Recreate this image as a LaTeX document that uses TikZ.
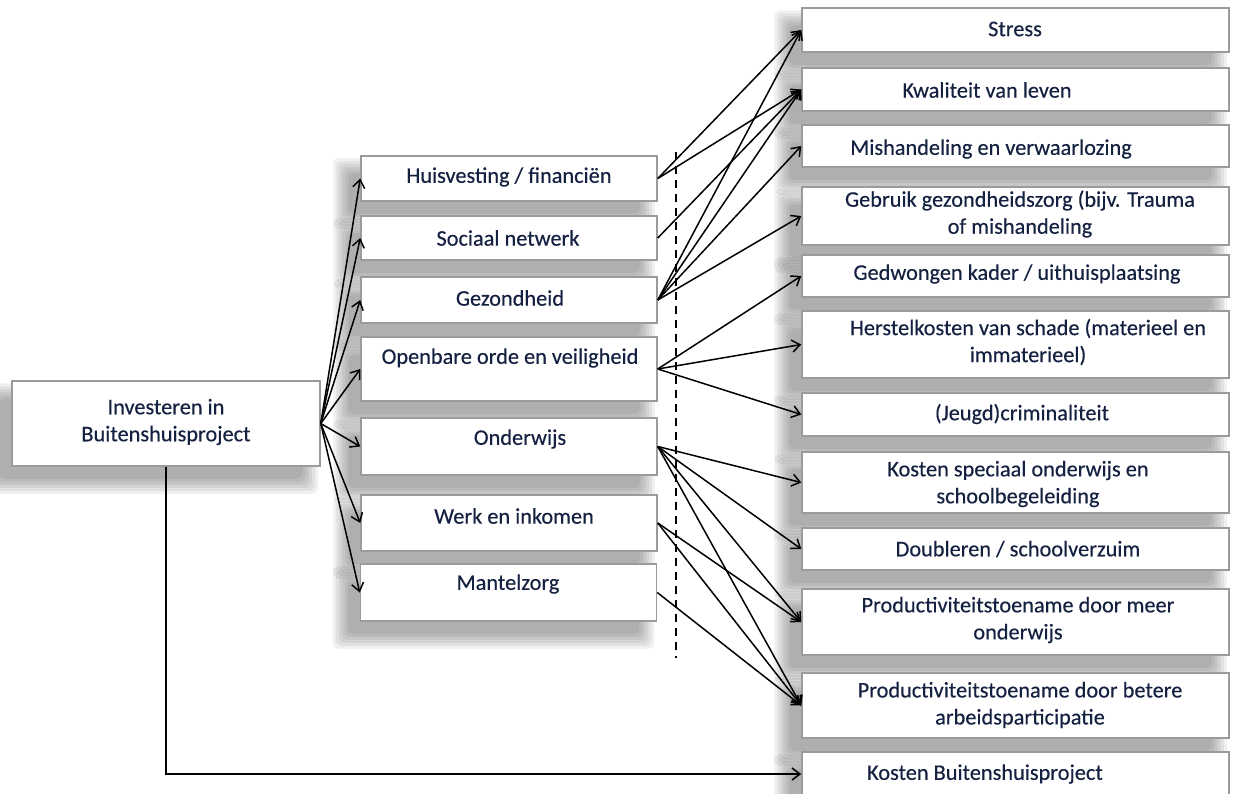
\documentclass[tikz,border=0pt]{standalone}
\usepackage{fontspec}
\setmainfont{Carlito}[UprightFeatures={FakeBold=0.3}]
\usetikzlibrary{arrows.meta,calc}
\definecolor{txtc}{RGB}{20,33,64}
\definecolor{framec}{RGB}{155,155,155}
\pgfdeclarelayer{bg}
\pgfsetlayers{bg,main}
\begin{document}
\begin{tikzpicture}[x=1pt,y=-1pt,
  box/.style={draw=framec, line width=1.5pt, fill=white, inner sep=0pt, rectangle},
  midbox/.style={box, minimum width=296pt, minimum height=#1},
  rbox/.style={box, minimum width=427pt, minimum height=#1},
  txt/.style={text=txtc, font=\fontsize{22.3}{27}\selectfont, inner sep=0pt, align=center},
  arr/.style={-{Straight Barb[length=8pt,width=12pt]}, line width=1.5pt, black},
  shadowlayer/.style={fill=black, opacity=0.058, rounded corners=6pt},
  dashline/.style={dash pattern=on 8pt off 6pt, line width=1.6pt, black}]
\useasboundingbox (0,0) rectangle (1237,793);
\begin{pgfonlayer}{bg}
\fill[white] (0,0) rectangle (1237,793);
\end{pgfonlayer}

% right column
\node[rbox=44pt] (St) at (1015.5,30) {};
\node[rbox=43pt] (K)  at (1015.5,89.5) {};
\node[rbox=42pt] (Mi) at (1015.5,146) {};
\node[rbox=58pt] (Ge) at (1015.5,216) {};
\node[rbox=42pt] (Gd) at (1015.5,276) {};
\node[rbox=67pt] (He) at (1015.5,344.5) {};
\node[rbox=43pt] (J)  at (1015.5,414.5) {};
\node[rbox=61pt] (KS) at (1015.5,482.5) {};
\node[rbox=42pt] (D)  at (1015.5,549) {};
\node[rbox=66pt] (P1) at (1015.5,622) {};
\node[rbox=65pt] (P2) at (1015.5,705.5) {};
\node[rbox=44pt] (KB) at (1015.5,774) {};

% middle column
\node[midbox=45pt] (H)  at (509,178.5) {};
\node[midbox=44pt] (S)  at (509,238) {};
\node[midbox=46pt] (G)  at (509,300) {};
\node[midbox=64pt] (O)  at (509,369) {};
\node[midbox=57pt] (On) at (509,446.5) {};
\node[midbox=56pt] (W)  at (509,523) {};
\node[midbox=57pt] (M)  at (508.5,592.5) {};

% left box
\node[box, minimum width=308pt, minimum height=85pt] (L) at (166,423.5) {};

% blurred shadows behind all boxes
\begin{pgfonlayer}{bg}
\foreach \n in {St,K,Mi,Ge,Gd,He,J,KS,D,P1,P2,KB,H,S,G,O,On,W,M,L} {
  \foreach \e in {12,9,6,3,0,-3} {
    \fill[shadowlayer] ($(\n.north west)+(-15-\e,15-\e)$) rectangle ($(\n.south east)+(-15+\e,15+\e)$);
  }
}
\end{pgfonlayer}

% texts
\node[txt] (tL) at (166,422) {Investeren in\\Buitenshuisproject};
\node[txt] (tH) at (509,177) {Huisvesting / financiën};
\node[txt] (tS) at (508,238) {Sociaal netwerk};
\node[txt] (tG) at (510,298) {Gezondheid};
\node[txt] (tO) at (510,358) {Openbare orde en veiligheid};
\node[txt] (tOn) at (520,439) {Onderwijs};
\node[txt] (tW) at (514,516) {Werk en inkomen};
\node[txt] (tM) at (508,584) {Mantelzorg};

\node[txt] (tSt) at (1015,29) {Stress};
\node[txt] (tK) at (987,90) {Kwaliteit van leven};
\node[txt] (tMi) at (991,149) {Mishandeling en verwaarlozing};
\node[txt] (tGe) at (1020,214) {Gebruik gezondheidszorg (bijv. Trauma\\of mishandeling};
\node[txt] (tGd) at (1017,274) {Gedwongen kader / uithuisplaatsing};
\node[txt] (tHe) at (1028,342) {Herstelkosten van schade (materieel en\\immaterieel)};
\node[txt] (tJ) at (1022,414) {(Jeugd)criminaliteit};
\node[txt] (tKS) at (1018,484) {Kosten speciaal onderwijs en\\schoolbegeleiding};
\node[txt] (tD) at (1018,549) {Doubleren / schoolverzuim};
\node[txt] (tP1) at (1018,620) {Productiviteitstoename door meer\\onderwijs};
\node[txt] (tP2) at (1020,705) {Productiviteitstoename door betere\\arbeidsparticipatie};
\node[txt] (tKB) at (985,774) {Kosten Buitenshuisproject};

% dashed separator
\coordinate (d1) at (676,152);
\coordinate (d2) at (676,658);
\draw[dashline] (d1) -- (d2);

% left to middle
\foreach \t in {H,S,G,O,On,W,M} \draw[arr] (L.east) -- (\t.west);
\draw[arr] (L.south) |- (KB.west);

% middle to right
\draw[arr] (H.east) -- (St.west);
\draw[arr] (H.east) -- (K.west);
\draw[arr] (S.east) -- (K.west);
\draw[arr] (G.east) -- (St.west);
\draw[arr] (G.east) -- (K.west);
\draw[arr] (G.east) -- (Mi.west);
\draw[arr] (G.east) -- (Ge.west);
\draw[arr] (O.east) -- (Gd.west);
\draw[arr] (O.east) -- (He.west);
\draw[arr] (O.east) -- (J.west);
\draw[arr] (On.east) -- (KS.west);
\draw[arr] (On.east) -- (D.west);
\draw[arr] (On.east) -- (P1.west);
\draw[arr] (On.east) -- (P2.west);
\draw[arr] (W.east) -- (P1.west);
\draw[arr] (W.east) -- (P2.west);
\draw[arr] (M.east) -- (P2.west);
\end{tikzpicture}
\end{document}
